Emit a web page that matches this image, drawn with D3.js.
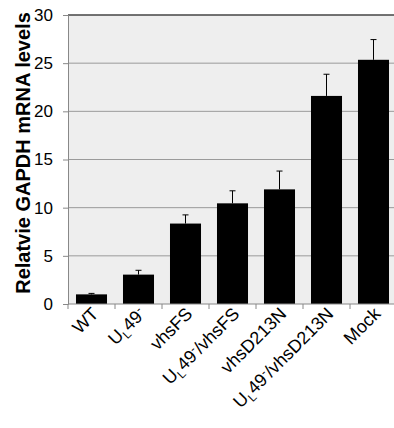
<!DOCTYPE html>
<html><head><meta charset="utf-8">
<script src="https://cdn.jsdelivr.net/npm/d3@7"></script>
<style>body{margin:0;background:#fff}svg{display:block}</style>
</head><body>
<svg id="c" width="394" height="428"></svg>
<script>
const categories = ["WT","UL49-","vhsFS","UL49-/vhsFS","vhsD213N","UL49-/vhsD213N","Mock"];
const values = [1.0, 3.05, 8.35, 10.45, 11.9, 21.6, 25.35];
const errors = [0.1, 0.45, 0.9, 1.3, 1.9, 2.25, 2.1];
const yTicks = [0,5,10,15,20,25,30];

const svg = d3.select("#c");
const m = {l:68, t:15, r:-3, b:124};
const W = 394 - m.l - m.r, H = 428 - m.t - m.b;
const g = svg.append("g").attr("transform",`translate(${m.l},${m.t})`);
const x = d3.scaleBand().domain(categories).range([0,W]).paddingInner(0.34).paddingOuter(0.17);
const y = d3.scaleLinear().domain([0,30]).range([H,0]);

g.append("rect").attr("width",W).attr("height",H).attr("fill","#eeeeee");
g.selectAll(".grid").data(yTicks.filter(d=>d>0&&d<30)).join("line")
  .attr("x1",0).attr("x2",W).attr("y1",d=>y(d)).attr("y2",d=>y(d))
  .attr("stroke","#9a9a9a").attr("stroke-width",1);
g.append("line").attr("x1",0).attr("x2",W).attr("y1",y(30)).attr("y2",y(30)).attr("stroke","#444").attr("stroke-width",1.5);

// error bars
const data = categories.map((c,i)=>({c,v:values[i],e:errors[i]}));
g.selectAll(".eb").data(data).join("line")
  .attr("x1",d=>x(d.c)+x.bandwidth()/2).attr("x2",d=>x(d.c)+x.bandwidth()/2)
  .attr("y1",d=>y(d.v)).attr("y2",d=>y(d.v+d.e)).attr("stroke","#000").attr("stroke-width",1);
g.selectAll(".ec").data(data).join("line")
  .attr("x1",d=>x(d.c)+x.bandwidth()/2-3).attr("x2",d=>x(d.c)+x.bandwidth()/2+3)
  .attr("y1",d=>y(d.v+d.e)).attr("y2",d=>y(d.v+d.e)).attr("stroke","#000").attr("stroke-width",1);
g.selectAll(".bar").data(data).join("rect")
  .attr("x",d=>x(d.c)).attr("width",x.bandwidth())
  .attr("y",d=>y(d.v)).attr("height",d=>H-y(d.v)).attr("fill","#000");

// y axis
const ya = g.append("g").call(d3.axisLeft(y).tickValues(yTicks).tickSize(5).tickPadding(10));
ya.select(".domain").attr("stroke","#888");
ya.selectAll(".tick line").attr("stroke","#888");
ya.selectAll("text").attr("font-family","Arial, Liberation Sans, sans-serif").attr("font-size",17).attr("fill","#000");

// x axis with ticks at band boundaries
const bounds = d3.range(categories.length+1).map(i=>i*W/categories.length);
g.append("line").attr("x1",0).attr("x2",W).attr("y1",H).attr("y2",H).attr("stroke","#888");
g.selectAll(".xt").data(bounds).join("line").attr("x1",d=>d).attr("x2",d=>d)
  .attr("y1",H).attr("y2",H+5).attr("stroke","#888");

const lab = g.selectAll(".xl").data(categories).join("text")
  .attr("transform",d=>`translate(${x(d)+x.bandwidth()/2+8},${H+11}) rotate(-45)`)
  .attr("text-anchor","end").attr("font-family","Arial, Liberation Sans, sans-serif")
  .attr("font-size",18).attr("fill","#000");
lab.each(function(d){
  const t = d3.select(this);
  if(d.startsWith("UL49-")){
    t.append("tspan").text("U");
    t.append("tspan").text("L").attr("font-size",12).attr("dy",4);
    t.append("tspan").text("49").attr("dy",-4);
    t.append("tspan").text("-").attr("font-size",12).attr("dy",-6);
    const rest = d.slice(5);
    if(rest) t.append("tspan").text(rest).attr("dy",6);
  } else t.text(d);
});

svg.append("text").attr("transform",`translate(30,153) rotate(-90)`)
  .attr("text-anchor","middle").attr("font-family","Arial, Liberation Sans, sans-serif")
  .attr("font-weight","bold").attr("font-size",20).text("Relatvie GAPDH mRNA levels");
</script>
</body></html>
